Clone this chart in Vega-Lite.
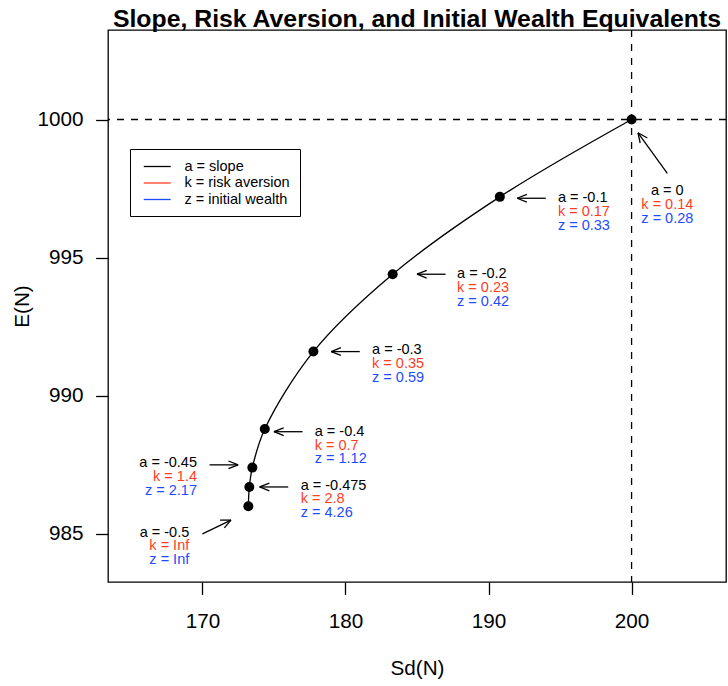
{
  "$schema": "https://vega.github.io/schema/vega-lite/v6.json",
  "autosize": {"type": "none"},
  "width": 618,
  "height": 552,
  "padding": {"left": 108, "top": 30, "right": 2, "bottom": 104},
  "background": "white",
  "title": {"text": "Slope, Risk Aversion, and Initial Wealth Equivalents", "font": "Liberation Sans", "fontSize": 24.8, "fontWeight": "bold", "color": "black", "anchor": "middle", "frame": "group", "offset": -2},
  "config": {
    "view": {"stroke": "black", "strokeWidth": 1.3},
    "axis": {"grid": false, "domain": false, "tickSize": 12.4, "tickWidth": 1.3, "tickColor": "black", "labelFontSize": 20.7, "labelFont": "Liberation Sans", "labelColor": "black", "titleFontSize": 20.7, "titleFont": "Liberation Sans", "titleFontWeight": "normal", "titleColor": "black", "labelFlush": false, "labelOverlap": false},
    "axisX": {"labelPadding": 17, "titlePadding": 27},
    "axisY": {"labelPadding": 12.6, "titlePadding": 4, "labelAngle": 0}
  },
  "datasets": {
    "curve": [
      {"a": -0.5, "sd": 173.21, "e": 986.0},
      {"a": -0.475, "sd": 173.28, "e": 986.7},
      {"a": -0.45, "sd": 173.49, "e": 987.4},
      {"a": -0.4, "sd": 174.36, "e": 988.8},
      {"a": -0.3, "sd": 177.76, "e": 991.6},
      {"a": -0.2, "sd": 183.3, "e": 994.4},
      {"a": -0.1, "sd": 190.79, "e": 997.2},
      {"a": 0, "sd": 200.0, "e": 1000.0}
    ],
    "segs": [
      {"sd": 202.5, "e": 998.05, "sd2": 200.45, "e2": 999.52},
      {"sd": 200.45, "e": 999.52, "sd2": 200.6, "e2": 999.15},
      {"sd": 200.45, "e": 999.52, "sd2": 201.1, "e2": 999.33},
      {"sd": 194, "e": 997.15, "sd2": 192, "e2": 997.15},
      {"sd": 192, "e": 997.15, "sd2": 192.68, "e2": 997.29},
      {"sd": 192, "e": 997.15, "sd2": 192.68, "e2": 997.01},
      {"sd": 187, "e": 994.4, "sd2": 185, "e2": 994.4},
      {"sd": 185, "e": 994.4, "sd2": 185.68, "e2": 994.54},
      {"sd": 185, "e": 994.4, "sd2": 185.68, "e2": 994.26},
      {"sd": 181, "e": 991.6, "sd2": 179, "e2": 991.6},
      {"sd": 179, "e": 991.6, "sd2": 179.68, "e2": 991.74},
      {"sd": 179, "e": 991.6, "sd2": 179.68, "e2": 991.46},
      {"sd": 177, "e": 988.7, "sd2": 175, "e2": 988.7},
      {"sd": 175, "e": 988.7, "sd2": 175.68, "e2": 988.84},
      {"sd": 175, "e": 988.7, "sd2": 175.68, "e2": 988.56},
      {"sd": 170.5, "e": 987.5, "sd2": 172.5, "e2": 987.5},
      {"sd": 172.5, "e": 987.5, "sd2": 171.82, "e2": 987.64},
      {"sd": 172.5, "e": 987.5, "sd2": 171.82, "e2": 987.36},
      {"sd": 176, "e": 986.7, "sd2": 174, "e2": 986.7},
      {"sd": 174, "e": 986.7, "sd2": 174.68, "e2": 986.84},
      {"sd": 174, "e": 986.7, "sd2": 174.68, "e2": 986.56},
      {"sd": 170, "e": 985.0, "sd2": 172, "e2": 985.5},
      {"sd": 172, "e": 985.5, "sd2": 171.24, "e2": 985.5},
      {"sd": 172, "e": 985.5, "sd2": 171.53, "e2": 985.22}
    ],
    "notes": [
      {"side": "center", "sd": 202.5, "e": 997.4, "var": "a = slope", "label": "a = 0"},
      {"side": "center", "sd": 202.5, "e": 996.9, "var": "k = risk aversion", "label": "k = 0.14"},
      {"side": "center", "sd": 202.5, "e": 996.4, "var": "z = initial wealth", "label": "z = 0.28"},
      {"side": "left", "sd": 194.85, "e": 997.15, "var": "a = slope", "label": "a = -0.1"},
      {"side": "left", "sd": 194.85, "e": 996.65, "var": "k = risk aversion", "label": "k = 0.17"},
      {"side": "left", "sd": 194.85, "e": 996.15, "var": "z = initial wealth", "label": "z = 0.33"},
      {"side": "left", "sd": 187.8, "e": 994.4, "var": "a = slope", "label": "a = -0.2"},
      {"side": "left", "sd": 187.8, "e": 993.9, "var": "k = risk aversion", "label": "k = 0.23"},
      {"side": "left", "sd": 187.8, "e": 993.4, "var": "z = initial wealth", "label": "z = 0.42"},
      {"side": "left", "sd": 181.86, "e": 991.65, "var": "a = slope", "label": "a = -0.3"},
      {"side": "left", "sd": 181.86, "e": 991.15, "var": "k = risk aversion", "label": "k = 0.35"},
      {"side": "left", "sd": 181.86, "e": 990.65, "var": "z = initial wealth", "label": "z = 0.59"},
      {"side": "left", "sd": 177.85, "e": 988.7, "var": "a = slope", "label": "a = -0.4"},
      {"side": "left", "sd": 177.85, "e": 988.2, "var": "k = risk aversion", "label": "k = 0.7"},
      {"side": "left", "sd": 177.85, "e": 987.7, "var": "z = initial wealth", "label": "z = 1.12"},
      {"side": "right", "sd": 169.62, "e": 987.55, "var": "a = slope", "label": "a = -0.45"},
      {"side": "right", "sd": 169.62, "e": 987.05, "var": "k = risk aversion", "label": "k = 1.4"},
      {"side": "right", "sd": 169.62, "e": 986.55, "var": "z = initial wealth", "label": "z = 2.17"},
      {"side": "left", "sd": 176.87, "e": 986.75, "var": "a = slope", "label": "a = -0.475"},
      {"side": "left", "sd": 176.87, "e": 986.25, "var": "k = risk aversion", "label": "k = 2.8"},
      {"side": "left", "sd": 176.87, "e": 985.75, "var": "z = initial wealth", "label": "z = 4.26"},
      {"side": "right", "sd": 169.08, "e": 985.05, "var": "a = slope", "label": "a = -0.5"},
      {"side": "right", "sd": 169.08, "e": 984.55, "var": "k = risk aversion", "label": "k = Inf"},
      {"side": "right", "sd": 169.08, "e": 984.05, "var": "z = initial wealth", "label": "z = Inf"}
    ]
  },
  "layer": [
    {
      "data": {"values": [{"sd": 200}]},
      "mark": {"type": "rule", "color": "black", "strokeWidth": 1.3, "strokeDash": [7, 7]},
      "encoding": {
        "x": {"field": "sd", "type": "quantitative", "scale": {"domain": [163.4, 206.6], "nice": false, "zero": false}, "axis": {"title": "Sd(N)", "values": [170, 180, 190, 200], "format": "d"}}
      }
    },
    {
      "data": {"values": [{"e": 1000}]},
      "mark": {"type": "rule", "color": "black", "strokeWidth": 1.3, "strokeDash": [7, 7]},
      "encoding": {
        "y": {"field": "e", "type": "quantitative", "scale": {"domain": [983.26, 1003.24], "nice": false, "zero": false}, "axis": {"title": "E(N)", "values": [985, 990, 995, 1000], "format": "d"}}
      }
    },
    {
      "data": {"name": "curve"},
      "mark": {"type": "line", "color": "black", "strokeWidth": 1.3, "interpolate": "catmull-rom"},
      "encoding": {
        "x": {"field": "sd", "type": "quantitative", "title": "Sd(N)"},
        "y": {"field": "e", "type": "quantitative", "title": "E(N)"},
        "order": {"field": "a", "type": "quantitative"}
      }
    },
    {
      "data": {"name": "curve"},
      "mark": {"type": "point", "shape": "circle", "filled": true, "color": "black", "opacity": 1, "size": 100},
      "encoding": {
        "x": {"field": "sd", "type": "quantitative", "title": "Sd(N)"},
        "y": {"field": "e", "type": "quantitative", "title": "E(N)"}
      }
    },
    {
      "data": {"name": "segs"},
      "mark": {"type": "rule", "color": "black", "strokeWidth": 1.3},
      "encoding": {
        "x": {"field": "sd", "type": "quantitative", "title": "Sd(N)"},
        "y": {"field": "e", "type": "quantitative", "title": "E(N)"},
        "x2": {"field": "sd2"},
        "y2": {"field": "e2"}
      }
    },
    {
      "data": {"name": "notes"},
      "transform": [{"filter": "datum.side == 'left'"}],
      "mark": {"type": "text", "align": "left", "baseline": "middle", "font": "Liberation Sans", "fontSize": 14.5},
      "encoding": {
        "x": {"field": "sd", "type": "quantitative", "title": "Sd(N)"},
        "y": {"field": "e", "type": "quantitative", "title": "E(N)"},
        "text": {"field": "label"},
        "color": {"field": "var", "type": "nominal",
          "scale": {"domain": ["a = slope", "k = risk aversion", "z = initial wealth"], "range": ["#000000", "#FF3D1F", "#1F4BFF"]},
          "legend": {"title": null, "orient": "none", "legendX": 22, "legendY": 119, "padding": 10, "symbolType": "M-2,0L2,0", "symbolSize": 182, "symbolStrokeWidth": 1.3, "labelFontSize": 14.5, "labelFont": "Liberation Sans", "labelColor": "black", "labelOffset": 19.75, "symbolOffset": 9.75, "rowPadding": 1.5, "strokeColor": "black", "fillColor": "white",
            "encode": {"symbols": {"update": {"stroke": {"scale": "color", "field": "value"}, "fill": {"value": "transparent"}}}}}
        }
      }
    },
    {
      "data": {"name": "notes"},
      "transform": [{"filter": "datum.side == 'right'"}],
      "mark": {"type": "text", "align": "right", "baseline": "middle", "font": "Liberation Sans", "fontSize": 14.5},
      "encoding": {
        "x": {"field": "sd", "type": "quantitative", "title": "Sd(N)"},
        "y": {"field": "e", "type": "quantitative", "title": "E(N)"},
        "text": {"field": "label"},
        "color": {"field": "var", "type": "nominal"}
      }
    },
    {
      "data": {"name": "notes"},
      "transform": [{"filter": "datum.side == 'center'"}],
      "mark": {"type": "text", "align": "center", "baseline": "middle", "font": "Liberation Sans", "fontSize": 14.5},
      "encoding": {
        "x": {"field": "sd", "type": "quantitative", "title": "Sd(N)"},
        "y": {"field": "e", "type": "quantitative", "title": "E(N)"},
        "text": {"field": "label"},
        "color": {"field": "var", "type": "nominal"}
      }
    }
  ]
}
